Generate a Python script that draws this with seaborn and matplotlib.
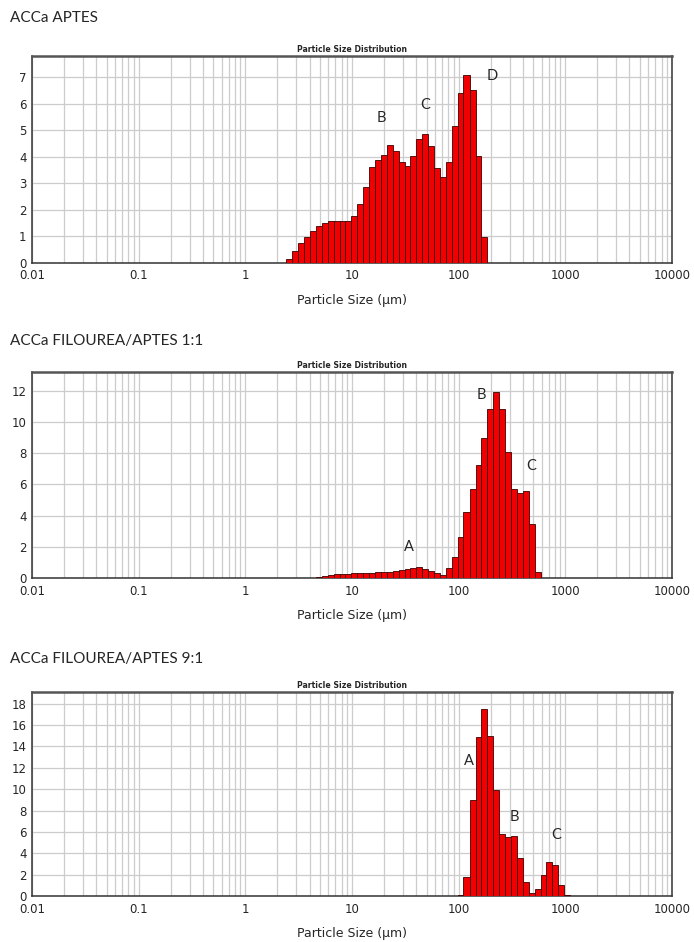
import numpy as np
import pandas as pd
import matplotlib
matplotlib.use("Agg")
import matplotlib.pyplot as plt
from matplotlib.ticker import LogLocator, NullFormatter, FixedLocator, FixedFormatter
import seaborn as sns

# Mastersizer size classes (bin edges, µm) and volume density (%)
EDGES_APTES = [2.42, 2.75, 3.12, 3.55, 4.03, 4.58, 5.21, 5.92, 6.72, 7.64, 8.68, 9.86,
               11.2, 12.7, 14.5, 16.4, 18.7, 21.2, 24.1, 27.4, 31.1, 35.3, 40.1, 45.6,
               51.8, 58.9, 66.9, 76.0, 86.4, 98.1, 111, 127, 144, 163, 186]
VALS_APTES = [0.14, 0.45, 0.73, 0.98, 1.18, 1.37, 1.50, 1.56, 1.56, 1.56, 1.56, 1.74,
              2.21, 2.87, 3.62, 3.87, 4.06, 4.44, 4.23, 3.79, 3.66, 4.04, 4.67, 4.86,
              4.39, 3.56, 3.22, 3.79, 5.14, 6.39, 7.08, 6.52, 4.04, 0.96]

EDGES_11 = [4.03, 4.58, 5.21, 5.92, 6.72, 7.64, 8.68, 9.86, 11.2, 12.7, 14.5, 16.4,
            18.7, 21.2, 24.1, 27.4, 31.1, 35.3, 40.1, 45.6, 51.8, 58.9, 66.9, 76.0,
            86.4, 98.1, 111, 127, 144, 163, 186, 211, 240, 272, 310, 352, 400, 454,
            516, 586]
VALS_11 = [0.03, 0.05, 0.12, 0.20, 0.25, 0.27, 0.28, 0.30, 0.31, 0.33, 0.34, 0.36,
           0.38, 0.40, 0.42, 0.50, 0.58, 0.65, 0.68, 0.60, 0.45, 0.30, 0.22, 0.65,
           1.36, 2.60, 4.20, 5.70, 7.25, 8.95, 10.85, 11.95, 10.85, 8.10, 5.70, 5.42,
           5.60, 3.44, 0.36]

EDGES_91 = [98.1, 111, 127, 144, 163, 186, 211, 240, 272, 310, 352, 400, 454, 516,
            586, 666, 756, 859, 976, 1110]
VALS_91 = [0.10, 1.75, 9.00, 14.9, 17.5, 15.0, 9.90, 5.85, 5.55, 5.60, 3.60, 1.28,
           0.30, 0.70, 2.00, 3.20, 2.90, 1.00, 0.08]

X_TICKS = [0.01, 0.1, 1, 10, 100, 1000, 10000]
X_LABELS = ["0.01", "0.1", "1", "10", "100", "1000", "10000"]

PEAKS_APTES = [("B", 18.8, 5.45), ("C", 48.5, 5.95), ("D", 205, 7.05)]
PEAKS_11 = [("A", 34.5, 2.0), ("B", 163, 11.7), ("C", 480, 7.2)]
PEAKS_91 = [("A", 126, 12.6), ("B", 335, 7.4), ("C", 830, 5.7)]

sns.set_theme(style="white")
plt.rcParams["font.family"] = ["Lato", "DejaVu Sans"]

RED = "#f00000"
EDGE = "#3c0000"
GRID = "#cccccc"
INK = "#262626"
TICKFONT = ["DejaVu Sans"]

fig = plt.figure(figsize=(6.94, 9.42), dpi=100)
fig.patch.set_facecolor("white")

panels = [
    ("ACCa APTES", EDGES_APTES, VALS_APTES, 7.8, list(range(0, 8)), PEAKS_APTES,
     [0.0462, 0.7213, 0.9220, 0.2193], 0.981),
    ("ACCa FILOUREA/APTES 1:1", EDGES_11, VALS_11, 13.2, list(range(0, 13, 2)), PEAKS_11,
     [0.0462, 0.3864, 0.9220, 0.2187], 0.638),
    ("ACCa FILOUREA/APTES 9:1", EDGES_91, VALS_91, 19.1, list(range(0, 19, 2)), PEAKS_91,
     [0.0462, 0.0488, 0.9220, 0.2166], 0.300),
]

for name, edges, vals, ymax, yticks, peaks, rect, ty in panels:
    ax = fig.add_axes(rect)
    e = np.array(edges)
    df = pd.DataFrame({"size": np.sqrt(e[:-1] * e[1:]), "pct": vals})
    # with log_scale, seaborn takes bin breaks in log10 units
    sns.histplot(data=df, x="size", weights="pct", bins=list(np.log10(e)), log_scale=True,
                 ax=ax, color=RED, edgecolor=EDGE, linewidth=0.6, alpha=1.0, zorder=3)
    ax.set_xlim(0.01, 10000)
    ax.set_ylim(0, ymax)

    ax.xaxis.set_major_locator(FixedLocator(X_TICKS))
    ax.xaxis.set_major_formatter(FixedFormatter(X_LABELS))
    ax.xaxis.set_minor_locator(LogLocator(base=10, subs=range(2, 10), numticks=100))
    ax.xaxis.set_minor_formatter(NullFormatter())
    ax.set_yticks(yticks)
    ax.set_yticklabels([str(v) for v in yticks])
    for t in ax.get_xticklabels() + ax.get_yticklabels():
        t.set_family(TICKFONT)

    ax.grid(which="both", axis="x", color=GRID, linewidth=0.9, zorder=0)
    ax.grid(which="major", axis="y", color=GRID, linewidth=0.9, zorder=0)
    ax.set_axisbelow(True)
    ax.tick_params(axis="both", which="both", length=0, labelsize=8.5, colors=INK)
    ax.tick_params(axis="x", pad=5)
    ax.tick_params(axis="y", pad=4)

    for sp in ax.spines.values():
        sp.set_visible(True)
        sp.set_color("#333333")
        sp.set_linewidth(1.1)
    ax.spines["top"].set_linewidth(1.8)
    ax.spines["top"].set_color("#555555")

    ax.set_ylabel("")
    ax.set_xlabel("Particle Size (µm)", fontsize=9, color=INK, labelpad=8, family=TICKFONT)
    ax.set_title("Particle Size Distribution", fontsize=5.6, fontweight="bold",
                 color=INK, pad=3, family=TICKFONT)

    for lab, px, py in peaks:
        ax.text(px, py, lab, fontsize=10.5, color=INK, ha="center", va="center", zorder=5)

    fig.text(0.015, ty, name, fontsize=11, color=INK, ha="left", va="center")

fig.savefig("out.png", dpi=100, facecolor="white")
